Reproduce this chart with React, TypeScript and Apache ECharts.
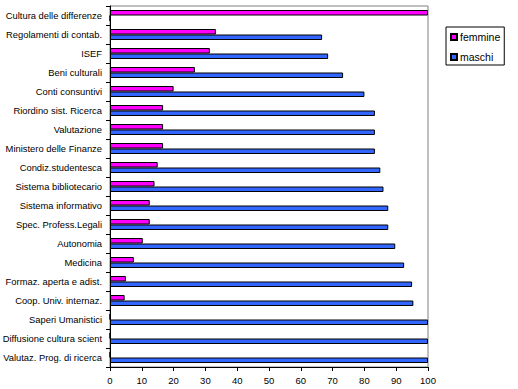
import React, { useEffect, useRef } from "react";
import * as echarts from "echarts";

const categories = [
  "Cultura delle differenze",
  "Regolamenti di contab.",
  "ISEF",
  "Beni culturali",
  "Conti consuntivi",
  "Riordino sist. Ricerca",
  "Valutazione",
  "Ministero delle Finanze",
  "Condiz.studentesca",
  "Sistema bibliotecario",
  "Sistema informativo",
  "Spec. Profess.Legali",
  "Autonomia",
  "Medicina",
  "Formaz. aperta e adist.",
  "Coop. Univ. internaz.",
  "Saperi Umanistici",
  "Diffusione cultura scient",
  "Valutaz. Prog. di ricerca",
];

const femmine = [100, 33.3, 31.4, 26.7, 20, 16.7, 16.7, 16.7, 15, 14, 12.5, 12.5, 10.3, 7.5, 5, 4.6, 0, 0, 0];
const maschi = [0, 66.7, 68.6, 73.3, 80, 83.3, 83.3, 83.3, 85, 86, 87.5, 87.5, 89.7, 92.5, 95, 95.4, 100, 100, 100];

const FONT = "'Liberation Sans', Arial, sans-serif";

export default function App() {
  const ref = useRef<HTMLDivElement>(null);
  useEffect(() => {
    if (!ref.current) return;
    const chart = echarts.init(ref.current, null, { renderer: "svg" });
    chart.setOption({
      animation: false,
      backgroundColor: "#ffffff",
      textStyle: { fontFamily: FONT },
      grid: {
        left: 110,
        top: 6,
        width: 318,
        height: 361,
        containLabel: false,
        outerBoundsMode: "none",
        show: true,
        borderColor: "#808080",
        borderWidth: 1,
        backgroundColor: "#ffffff",
      },
      legend: {
        orient: "vertical",
        left: 446,
        top: 27,
        padding: [3, 4, 1, 4],
        itemGap: 6,
        itemWidth: 6,
        itemHeight: 6,
        icon: "rect",
        borderColor: "#000",
        borderWidth: 1,
        textStyle: {
          fontFamily: FONT,
          fontSize: 10.5,
          lineHeight: 14,
          color: "#000",
          padding: [0, 0, 0, -2],
        },
        data: ["femmine", "maschi"],
      },
      xAxis: {
        type: "value",
        min: 0,
        max: 100,
        interval: 10,
        axisLine: { show: true, lineStyle: { color: "#000", width: 1 } },
        axisTick: { show: true, length: 4, lineStyle: { color: "#000" } },
        axisLabel: { color: "#000", fontFamily: FONT, fontSize: 9.5, margin: 8 },
        splitLine: { show: false },
      },
      yAxis: {
        type: "category",
        data: categories,
        inverse: true,
        axisLine: { show: true, lineStyle: { color: "#000", width: 1 } },
        axisTick: { show: true, length: 4, alignWithLabel: false, lineStyle: { color: "#000" } },
        axisLabel: { color: "#000", fontFamily: FONT, fontSize: 9.4, margin: 8 },
        splitLine: { show: false },
      },
      series: [
        {
          name: "femmine",
          type: "bar",
          data: femmine,
          barWidth: 5.5,
          barGap: "0%",
          itemStyle: { color: "#ff00ff", borderColor: "#000", borderWidth: 1 },
        },
        {
          name: "maschi",
          type: "bar",
          data: maschi,
          barWidth: 5.5,
          barGap: "0%",
          itemStyle: { color: "#3366ff", borderColor: "#000", borderWidth: 1 },
        },
      ],
    });
    return () => chart.dispose();
  }, []);
  return (
    <div
      ref={ref}
      style={{ position: "fixed", left: 0, top: 0, width: 518, height: 389, background: "#fff" }}
    />
  );
}
